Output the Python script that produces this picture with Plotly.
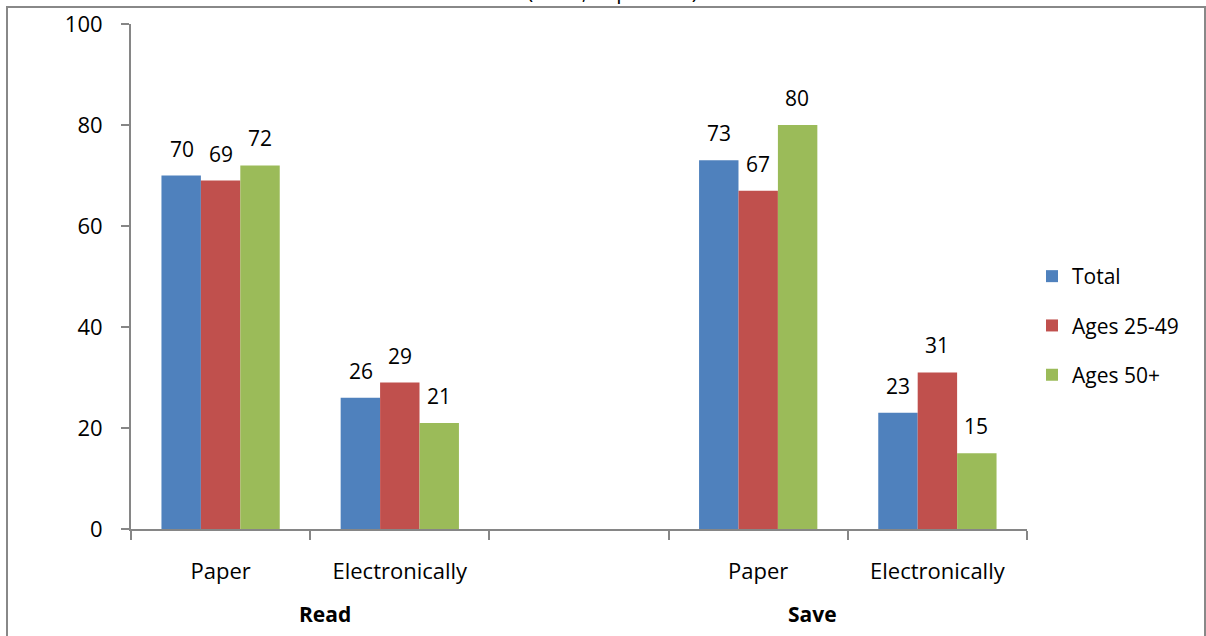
import plotly.graph_objects as go

# Categories along the x axis (blank slot separates the two groups)
categories = ["Paper", "Electronically", "", "Paper", "Electronically"]
groups = ["Read", "Save"]
series_names = ["Total", "Ages 25-49", "Ages 50+"]
total = [70, 26, None, 73, 23]
ages_25_49 = [69, 29, None, 67, 31]
ages_50_plus = [72, 21, None, 80, 15]
y_ticks = [0, 20, 40, 60, 80, 100]

colors = ["#4F81BD", "#C0504D", "#9BBB59"]
FONT = "Open Sans"
FS = 22
W, H = 1206, 636
L, R, T, B = 131, 179, 24, 107
PW, PH = W - L - R, H - T - B


def px_x(p):
    return (p - L) / PW


def px_y(p):
    return (H - B - p) / PH


xs = list(range(len(categories)))
fig = go.Figure()
bar_frac = 39 / 179  # width of one bar as fraction of a category slot
for i, (name, vals, col) in enumerate(zip(series_names, [total, ages_25_49, ages_50_plus], colors)):
    fig.add_trace(go.Bar(
        x=xs, y=vals, name=name, marker=dict(color=col, line=dict(width=0)),
        legendgroup=name,
    ))
    off = (i - 1) * bar_frac
    for x, v in zip(xs, vals):
        if v is None:
            continue
        fig.add_annotation(x=x + off, y=v, text=str(v), showarrow=False,
                           yanchor="bottom", yshift=11,
                           font=dict(family=FONT, size=FS - 1, color="black"))

# Group labels beneath the category labels
for gx, g in zip([px_x(325), px_x(812)], groups):
    fig.add_annotation(xref="paper", yref="paper", x=gx, y=px_y(614), text=f"<b>{g}</b>",
                       showarrow=False, yanchor="middle", xanchor="center",
                       font=dict(family=FONT, size=FS - 1, color="black"))

# Title line, mostly running off the top of the page
fig.add_annotation(xref="paper", yref="paper", x=px_x(612), y=px_y(7),
                   text="(Total, in percent)", showarrow=False, yanchor="bottom",
                   font=dict(family=FONT, size=FS - 1, color="black"))

# Outer chart frame
fig.add_shape(type="rect", xref="paper", yref="paper",
              x0=px_x(7), x1=px_x(1205), y0=px_y(650), y1=px_y(7),
              line=dict(color="#888888", width=2), layer="below")

fig.update_layout(
    width=W, height=H,
    margin=dict(l=L, r=R, t=T, b=B, pad=0, autoexpand=False),
    paper_bgcolor="white", plot_bgcolor="white",
    barmode="group", bargap=0.34, bargroupgap=0,
    font=dict(family=FONT, size=FS, color="black"),
    showlegend=True,
    legend=dict(x=px_x(1032), y=px_y(256), xanchor="left", yanchor="top",
                font=dict(family=FONT, size=FS - 1), tracegroupgap=19,
                itemwidth=30, bgcolor="rgba(0,0,0,0)"),
    xaxis=dict(
        range=[-0.5, len(categories) - 0.5], tickvals=xs, ticktext=categories,
        ticks="", showgrid=False, zeroline=False, showline=True, automargin=False,
        linecolor="#868686", linewidth=2, ticklabelstandoff=22,
        minor=dict(tickvals=[x - 0.5 for x in range(len(categories) + 1)],
                   ticks="outside", ticklen=9, tickcolor="#868686", tickwidth=2,
                   showgrid=False),
    ),
    yaxis=dict(
        range=[0, 100], tickvals=y_ticks, showgrid=False, zeroline=False,
        showline=True, linecolor="#868686", linewidth=2, automargin=False,
        ticks="outside", ticklen=8, tickcolor="#868686", tickwidth=2,
        ticklabelstandoff=14,
    ),
)

fig.write_html("out.html")
